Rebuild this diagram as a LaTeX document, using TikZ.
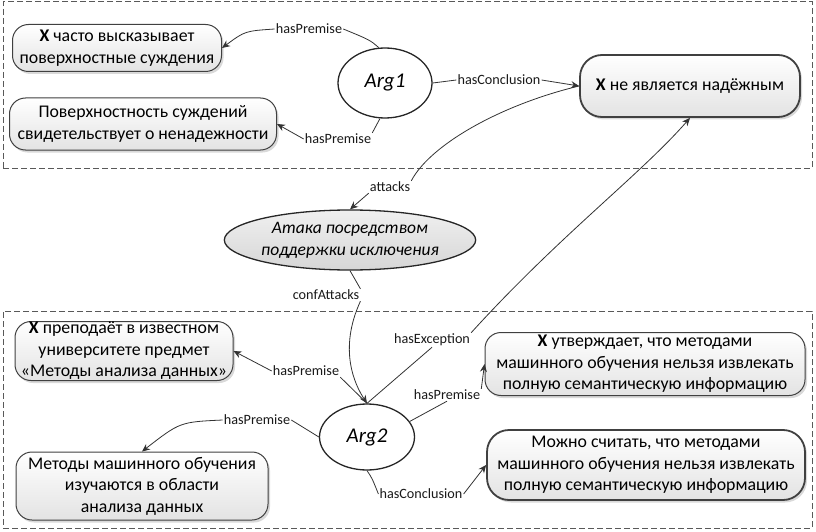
\documentclass[tikz,border=0pt]{standalone}
\usepackage{fontspec}
\setmainfont{Carlito}
\usetikzlibrary{shapes.geometric,shadows,arrows.meta}
\begin{document}
\begin{tikzpicture}[x=1pt,y=-1pt]
\tikzset{
 grp/.style={draw=black!65, dash pattern=on 6pt off 3pt, line width=1pt, inner sep=0},
 box/.style={rectangle, rounded corners=16pt, draw=black!75, line width=1pt, top color=white, bottom color=black!11, drop shadow={shadow xshift=2pt,shadow yshift=-2.5pt,opacity=0.3}, align=center, font=\fontsize{17.8}{21.5}\selectfont, inner sep=0},
 thickbox/.style={box, line width=1.8pt, rounded corners=22pt},
 argnode/.style={ellipse, draw=black!85, line width=1.3pt, fill=white, font=\fontsize{21}{24}\selectfont\itshape, inner sep=0},
 attnode/.style={ellipse, draw=black!85, line width=1.3pt, top color=black!6, bottom color=black!16, align=center, font=\fontsize{17.5}{22}\selectfont\itshape, inner sep=0},
 lbl/.style={font=\fontsize{14.2}{16}\selectfont, inner sep=1pt, text=black!90},
 conn/.style={draw=black!80, line width=0.8pt},
 arr/.style={conn, -{Stealth[length=8pt,width=7pt]}},
}
\useasboundingbox (0,0) rectangle (816,532);
% groups
\node[grp, minimum width=809pt, minimum height=166pt] (g1) at (407.5,85) {};
\node[grp, minimum width=809pt, minimum height=217pt] (g2) at (407.5,419.5) {};
% nodes
\node[box, minimum width=209pt, minimum height=47pt] (A) at (117,48) {\textbf{X} часто высказывает\\поверхностные суждения};
\node[box, minimum width=267pt, minimum height=52pt] (B) at (143,124) {Поверхностность суждений\\свидетельствует о ненадежности};
\node[argnode, minimum width=94pt, minimum height=70pt] (arg1) at (385,83) {Arg1};
\node[thickbox, minimum width=220pt, minimum height=62pt] (concl) at (690,86) {\textbf{X} не является надёжным};
\node[attnode, minimum width=236pt, minimum height=60pt] (att) at (350,240) {Атака посредством\\поддержки исключения};
\node[box, minimum width=218pt, minimum height=59pt] (C) at (124,351) {\textbf{X} преподаёт в известном\\университете предмет\\«Методы анализа данных»};
\node[box, minimum width=252pt, minimum height=68pt] (D) at (142,486) {Методы машинного обучения\\изучаются в области\\анализа данных};
\node[argnode, minimum width=95pt, minimum height=66pt] (arg2) at (367,437) {Arg2};
\node[box, minimum width=320pt, minimum height=63pt] (E) at (645,364) {\textbf{X} утверждает, что методами\\машинного обучения нельзя извлекать\\полную семантическую информацию};
\node[thickbox, minimum width=318pt, minimum height=70pt] (F) at (646,465) {Можно считать, что методами\\машинного обучения нельзя извлекать\\полную семантическую информацию};
% labels
\node[lbl] (l1) at (309,29) {hasPremise};
\node[lbl] (l2) at (338,139) {hasPremise};
\node[lbl] (l3) at (499,80) {hasConclusion};
\node[lbl] (l4) at (390,187) {attacks};
\node[lbl] (l5) at (432,340) {hasException};
\node[lbl] (l6) at (326,295) {confAttacks};
\node[lbl] (l7) at (306,371) {hasPremise};
\node[lbl] (l8) at (257,420) {hasPremise};
\node[lbl] (l9) at (447,395) {hasPremise};
\node[lbl] (l10) at (421,494) {hasConclusion};
% connectors
\draw[conn] (arg1.100) .. controls (370,40) .. (l1.east);
\draw[arr] (l1.west) .. controls (245,31) .. (A.east);
\draw[conn] (arg1.262) -- (l2.north east);
\draw[arr] (l2.west) -- (B.east);
\draw[conn] (arg1.east) -- (l3.west);
\draw[arr] (l3.east) -- (concl.west);
\draw[conn] (concl.west) .. controls (500,105) and (430,145) .. (l4.north east);
\draw[arr] (l4.south west) -- (att.north);
\draw[conn] (arg2.north) -- (l5.south);
\draw[arr] (l5.north east) .. controls (560,235) and (640,175) .. (concl.south);
\draw[conn] (att.south) -- (l6.north east);
\draw[arr] (l6.south east) .. controls (338,350) and (355,385) .. (arg2.north);
\draw[conn] (arg2.north) -- (l7.south east);
\draw[arr] (l7.west) -- (C.east);
\draw[conn] (arg2.west) -- (l8.east);
\draw[arr] (l8.west) .. controls (180,422) .. (D.north);
\draw[conn] (arg2.20) -- (l9.south);
\draw[arr] (l9.north east) -- (E.west);
\draw[conn] (arg2.south) .. controls (372,478) .. (l10.west);
\draw[arr] (l10.east) -- (F.west);
\end{tikzpicture}
\end{document}
